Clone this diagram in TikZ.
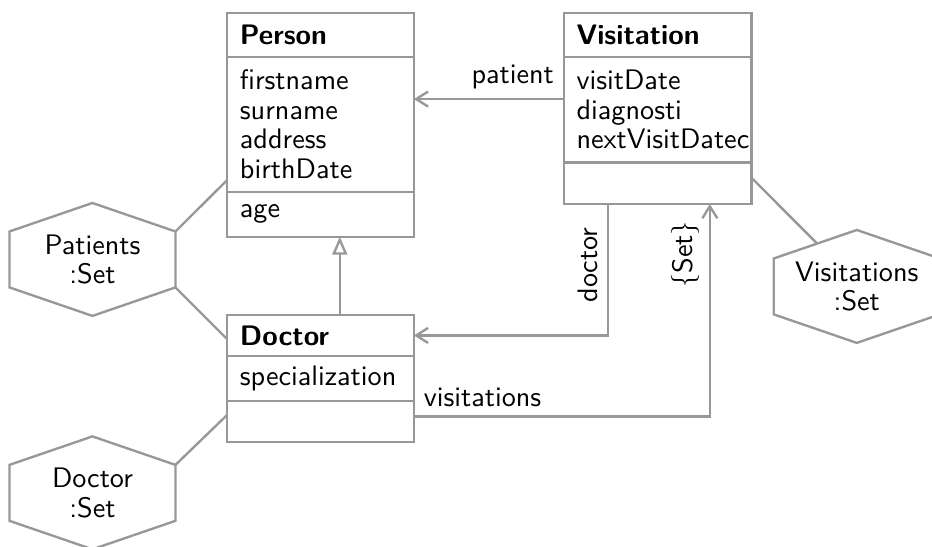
\documentclass[tikz,border=0pt]{standalone}
\usepackage{fontspec}
\usepackage{tikz}
\usetikzlibrary{positioning,arrows.meta,calc}
\definecolor{umlgray}{RGB}{152,152,152}
\newcommand{\umlfont}{\fontsize{10.7}{11.2}\selectfont\sffamily}

\begin{document}
\begin{tikzpicture}[
  font=\umlfont,
  umlbox/.style={draw=umlgray,line width=0.9pt,outer sep=0pt,inner xsep=0.17cm,inner ysep=1pt,align=left},
  umlhead/.style={umlbox,font=\umlfont\bfseries},
  setlabel/.style={align=center},
  umlline/.style={umlgray,text=black,line width=0.9pt},
  assoc/.style={umlline,-{Straight Barb[length=1.6mm,width=2mm]}},
  inherit/.style={umlline,-{Triangle[open,length=2.4mm,width=2mm]}}
]
  \useasboundingbox (0,0) rectangle (12.43,-7.29);

  % ── Person ──
  \node[umlhead,anchor=north west,text width=2.15cm,minimum height=0.587cm] (personhead) at (3.03,-0.17) {Person};
  \node[umlbox,below=0pt of personhead,text width=2.15cm,minimum height=1.8cm] (personattr) {firstname\\surname\\address\\birthDate};
  \node[umlbox,below=0pt of personattr,text width=2.15cm,minimum height=0.6cm] (personops) {age};

  % ── Visitation ──
  \node[umlhead,anchor=north west,text width=2.165cm,minimum height=0.587cm] (visithead) at (7.52,-0.17) {Visitation};
  \node[umlbox,below=0pt of visithead,text width=2.165cm,minimum height=1.408cm] (visitattr) {visitDate\\diagnosti\\nextVisitDatec};
  \node[umlbox,below=0pt of visitattr,text width=2.165cm,minimum height=0.556cm] (visitops) {};

  % ── Doctor ──
  \node[umlhead,anchor=north west,text width=2.15cm,minimum height=0.547cm] (doctorhead) at (3.03,-4.2) {Doctor};
  \node[umlbox,below=0pt of doctorhead,text width=2.15cm,minimum height=0.6cm] (doctorattr) {specialization};
  \node[umlbox,below=0pt of doctorattr,text width=2.15cm,minimum height=0.547cm] (doctorops) {};

  % ── Set objects ──
  \node[setlabel] (patients) at (1.233,-3.46) {Patients\\:Set};
  \node[setlabel] (doctorset) at (1.233,-6.573) {Doctor\\:Set};
  \node[setlabel] (visitset) at (11.427,-3.82) {Visitations\\:Set};
  \foreach \s in {patients,doctorset,visitset}
    \draw[umlline] ($(\s)+(0,0.753)$) -- ($(\s)+(1.107,0.373)$) -- ($(\s)+(1.107,-0.373)$)
      -- ($(\s)+(0,-0.753)$) -- ($(\s)+(-1.107,-0.373)$) -- ($(\s)+(-1.107,0.373)$) -- cycle;

  \draw[umlline] ($(patients)+(1.107,0.373)$) -- ($(personattr.south west)+(0,0.156)$);
  \draw[umlline] ($(patients)+(1.107,-0.373)$) -- ($(doctorhead.west)+(0,-0.05)$);
  \draw[umlline] ($(doctorset)+(1.107,0.373)$) -- ($(doctorops.west)+(0,0.087)$);
  \draw[umlline] ($(visitops.east)+(0,0.07)$) -- ($(visitset)+(-0.533,0.576)$);

  % ── Inheritance ──
  \draw[inherit] ($(doctorhead.north)+(0.257,0)$) coordinate (gbase) -- (gbase |- personops.south);

  % ── Associations ──
  \draw[assoc] ($(visitattr.west)+(0,0.14)$) coordinate (pstart) -- (pstart -| personattr.east)
    node[pos=0,above left] {patient};
  \draw[assoc] ($(visitops.south west)+(0.587,0)$) |- (doctorhead.east)
    node[pos=0.232,above,rotate=90] {doctor};
  \draw[assoc] ($(doctorops.east)+(0,0.064)$) -| ($(visitops.south west)+(1.947,0)$)
    node[pos=0,above right] {visitations}
    node[pos=0.882,above,rotate=90] {\{Set\}};
\end{tikzpicture}
\end{document}
